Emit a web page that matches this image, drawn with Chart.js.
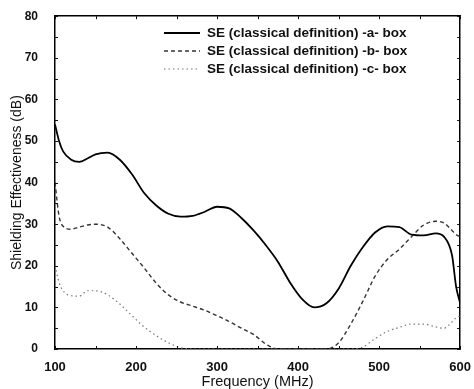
<!DOCTYPE html>
<html>
<head>
<meta charset="utf-8">
<script src="https://cdn.jsdelivr.net/npm/chart.js@4/dist/chart.umd.min.js"></script>
<style>
  html, body { margin: 0; padding: 0; background: #fff; }
  #wrap { width: 474px; height: 389px; }
</style>
</head>
<body>
<div id="wrap"><canvas id="seChart" width="474" height="389"></canvas></div>
<script>
// frequency grid (MHz)
const freqs = [100, 105, 110, 120, 130, 140, 150, 165, 180, 195, 210, 225, 240, 255, 270, 285, 300,
  315, 330, 345, 360, 375, 390, 405, 420, 435, 450, 465, 480, 495, 510, 525, 540, 555, 570, 580, 590, 595, 600];

// SE (dB) for each box
const seBoxA = [54, 50, 47.5, 45.5, 45, 45.8, 46.8, 47.2, 45.5, 42, 37.5, 34.5, 32.5, 31.8, 32, 33, 34.2,
  33.8, 31.5, 28.5, 25, 21, 16, 12, 10, 11, 14.5, 20, 24.5, 28, 29.5, 29.3, 27.5, 27.3, 27.8, 27, 22.5, 15, 11];
const seBoxB = [40, 32, 29.5, 28.8, 29.3, 29.8, 30, 29.3, 26.5, 23, 19.5, 15.8, 13, 11.3, 10.3, 9.3, 8,
  6.6, 5, 3.5, 1.2, 0, 0, 0, 0, 0, 1.5, 6, 11.5, 17.5, 21.5, 24, 27, 29.8, 30.7, 30.3, 28.5, 27.5, 27];
const seBoxC = [20, 16, 14, 12.8, 12.7, 14, 14, 13, 10.8, 8, 5.3, 3.2, 1.5, 0.3, 0, 0, 0,
  0, 0, 0, 0, 0, 0, 0, 0, 0, 0, 0, 0.5, 2.5, 4.2, 5.2, 6, 6, 5.3, 5, 6.5, 7.5, 8];

const seriesLabels = ['SE (classical definition) -a- box', 'SE (classical definition) -b- box', 'SE (classical definition) -c- box'];
const xTicks = [100, 200, 300, 400, 500, 600];
const yTicks = [0, 10, 20, 30, 40, 50, 60, 70, 80];
const xMinorStep = 50;
const yMinorStep = 5;

const FONT = 'Liberation Sans, Arial, sans-serif';

function pts(vals) {
  return freqs.map((f, i) => ({ x: f, y: vals[i] }));
}

// inward tick marks on all four sides
const innerTicks = {
  id: 'innerTicks',
  afterDraw(chart) {
    const { ctx, chartArea: a, scales } = chart;
    ctx.save();
    ctx.strokeStyle = '#111';
    ctx.lineWidth = 1;
    ctx.beginPath();
    for (let v = scales.x.min; v <= scales.x.max; v += xMinorStep) {
      const px = Math.round(scales.x.getPixelForValue(v)) + 0.5;
      ctx.moveTo(px, a.bottom); ctx.lineTo(px, a.bottom - 3);
      ctx.moveTo(px, a.top); ctx.lineTo(px, a.top + 3);
    }
    for (let v = scales.y.min; v <= scales.y.max; v += yMinorStep) {
      const py = Math.round(scales.y.getPixelForValue(v)) + 0.5;
      ctx.moveTo(a.left, py); ctx.lineTo(a.left + 3, py);
      ctx.moveTo(a.right, py); ctx.lineTo(a.right - 3, py);
    }
    ctx.stroke();
    ctx.restore();
  }
};

// legend inside plot, top right
const boxLegend = {
  id: 'boxLegend',
  afterDraw(chart) {
    const { ctx } = chart;
    ctx.save();
    ctx.font = 'bold 13.5px ' + FONT;
    ctx.textBaseline = 'middle';
    chart.data.datasets.forEach((ds, i) => {
      const y = 33 + i * 18;
      ctx.strokeStyle = ds.borderColor;
      ctx.lineWidth = ds.borderWidth;
      ctx.setLineDash(ds.borderDash || []);
      ctx.beginPath();
      ctx.moveTo(164, y); ctx.lineTo(200, y);
      ctx.stroke();
      ctx.setLineDash([]);
      ctx.fillStyle = '#111';
      ctx.fillText(ds.label, 207, y);
    });
    ctx.restore();
  }
};

new Chart(document.getElementById('seChart'), {
  type: 'line',
  data: {
    datasets: [
      { label: seriesLabels[0], data: pts(seBoxA), borderColor: '#000', borderWidth: 1.8, borderDash: [] },
      { label: seriesLabels[1], data: pts(seBoxB), borderColor: '#333', borderWidth: 1.4, borderDash: [4, 3] },
      { label: seriesLabels[2], data: pts(seBoxC), borderColor: '#777', borderWidth: 1.2, borderDash: [1.5, 3] }
    ]
  },
  options: {
    responsive: false,
    animation: false,
    events: [],
    layout: { padding: 0 },
    elements: {
      point: { radius: 0 },
      line: { cubicInterpolationMode: 'monotone', fill: false }
    },
    plugins: {
      legend: { display: false },
      tooltip: { enabled: false }
    },
    scales: {
      x: {
        type: 'linear',
        min: 100, max: 600,
        afterBuildTicks: s => { s.ticks = xTicks.map(v => ({ value: v })); },
        afterFit: s => { s.height = 40; },
        grid: { display: false },
        border: { display: true, color: '#000', width: 1.5 },
        ticks: { color: '#111', font: { family: FONT, size: 13, weight: 'bold' }, padding: 3, maxRotation: 0 },
        title: { display: true, text: 'Frequency (MHz)', color: '#111', font: { family: FONT, size: 14.5, lineHeight: 1 }, padding: { top: 0, bottom: 0 } }
      },
      y: {
        min: 0, max: 80,
        afterBuildTicks: s => { s.ticks = yTicks.map(v => ({ value: v })); },
        afterFit: s => { s.width = 55; },
        grid: { display: false },
        border: { display: true, color: '#000', width: 1.5 },
        ticks: { color: '#111', font: { family: FONT, size: 12, weight: 'bold' }, padding: 9 },
        title: { display: true, text: 'Shielding Effectiveness (dB)', color: '#111', font: { family: FONT, size: 14, lineHeight: 1 }, padding: { top: 10, bottom: 0 } }
      },
      x2: {
        type: 'linear', position: 'top', min: 100, max: 600,
        afterFit: s => { s.height = 13; },
        grid: { display: false },
        border: { display: true, color: '#000', width: 1.5 },
        ticks: { display: false }
      },
      y2: {
        position: 'right', min: 0, max: 80,
        afterFit: s => { s.width = 11; },
        grid: { display: false },
        border: { display: true, color: '#000', width: 1.5 },
        ticks: { display: false }
      }
    }
  },
  plugins: [innerTicks, boxLegend]
});
</script>
</body>
</html>
